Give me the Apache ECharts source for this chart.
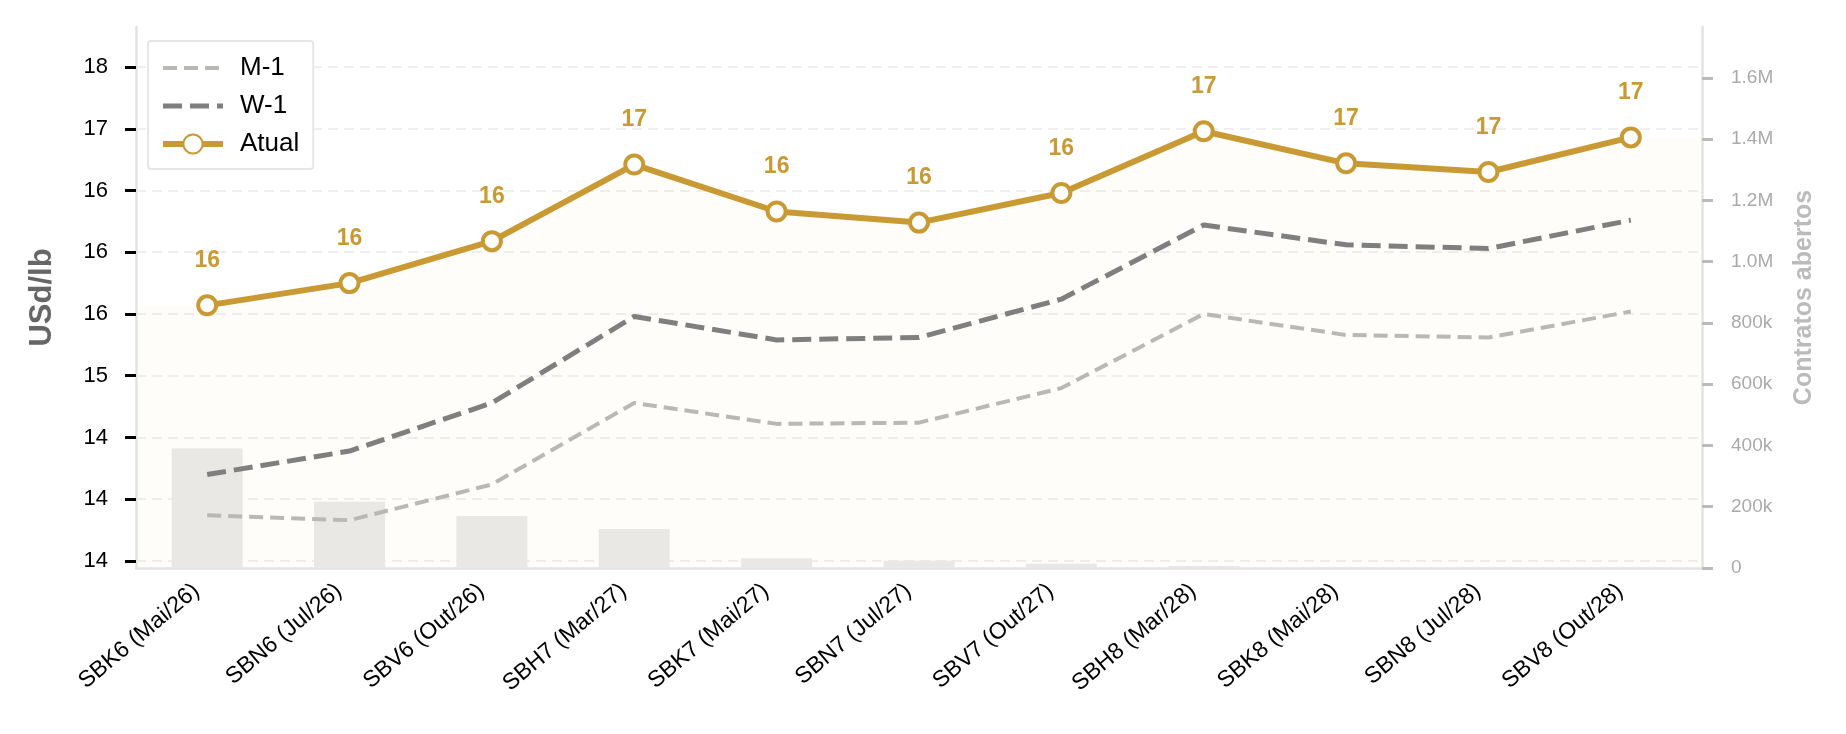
<!DOCTYPE html>
<html>
<head>
<meta charset="utf-8">
<title>Curva futura</title>
<script src="https://cdn.jsdelivr.net/npm/echarts@6/dist/echarts.min.js"></script>
<style>
html, body { margin: 0; padding: 0; background: #fff; }
#main { width: 1846px; height: 734px; }
</style>
</head>
<body>
<div id="main"></div>
<script type="text/javascript">
// vencimentos
var contratos = ['SBK6 (Mai/26)', 'SBN6 (Jul/26)', 'SBV6 (Out/26)', 'SBH7 (Mar/27)', 'SBK7 (Mai/27)', 'SBN7 (Jul/27)',
	'SBV7 (Out/27)', 'SBH8 (Mar/28)', 'SBK8 (Mai/28)', 'SBN8 (Jul/28)', 'SBV8 (Out/28)'];
// precos (USd/lb)
var atual = [15.57, 15.75, 16.09, 16.71, 16.33, 16.24, 16.48, 16.98, 16.72, 16.65, 16.93];
var semanaAnterior = [14.20, 14.39, 14.78, 15.48, 15.29, 15.31, 15.62, 16.22, 16.06, 16.03, 16.26];
var mesAnterior = [13.87, 13.83, 14.12, 14.78, 14.61, 14.62, 14.90, 15.50, 15.33, 15.31, 15.52];
// contratos abertos
var contratosAbertos = [390000, 216000, 170000, 127000, 32000, 24000, 14000, 6500, 2000, 1000, 500];
// marcas dos eixos
var leftTickValues = [13.5, 14, 14.5, 15, 15.5, 16, 16.5, 17, 17.5];
var leftTickLabels = ['14', '14', '14', '15', '16', '16', '16', '17', '18'];
var rightTickValues = [0, 200000, 400000, 600000, 800000, 1000000, 1200000, 1400000, 1600000];
var rightTickLabels = ['0', '200k', '400k', '600k', '800k', '1.0M', '1.2M', '1.4M', '1.6M'];

var fonte = '"Liberation Sans", Arial, sans-serif';
var ouro = '#c99a33';

// area suave sob a curva atual, estendida ate as bordas do grafico
var ultimo = atual.length - 1;
var areaAtual = [[-0.5, atual[0]]];
for (var i = 0; i < atual.length; i++) {
	areaAtual.push([i, atual[i]]);
}
areaAtual.push([ultimo + 0.5, atual[ultimo]]);

var semIcone = { color: 'rgba(0,0,0,0)', borderColor: 'rgba(0,0,0,0)', borderWidth: 0 };

var myChart = echarts.init(document.getElementById('main'));
var option = {
	backgroundColor: '#ffffff',
	animation: false,
	textStyle: { fontFamily: fonte },
	grid: { left: 136, right: 144, top: 27, bottom: 166, outerBoundsMode: 'none' },
	legend: {
		data: [
			{ name: 'M-1', itemStyle: semIcone },
			{ name: 'W-1', itemStyle: semIcone },
			{ name: 'Atual' }
		],
		orient: 'vertical',
		left: 148,
		top: 41,
		padding: [14, 14, 12, 12],
		itemWidth: 60,
		itemHeight: 24,
		itemGap: 12,
		borderColor: '#e6e6e6',
		borderWidth: 2,
		borderRadius: 3,
		backgroundColor: '#ffffff',
		lineStyle: { width: 'inherit' },
		textStyle: { fontSize: 26, color: '#000', padding: [0, 0, 0, 12] }
	},
	xAxis: [{
		type: 'category',
		data: contratos,
		boundaryGap: true,
		axisLine: { onZero: false, lineStyle: { color: '#e3e3e3', width: 2.5 } },
		axisTick: { alignWithLabel: true, length: 12, lineStyle: { color: '#000', width: 2.5 } },
		axisLabel: { rotate: 40, margin: 11, padding: [0, 14, 0, 0], fontSize: 23, color: '#000', interval: 0 },
		splitLine: { show: false }
	}, {
		type: 'value',
		min: -0.5,
		max: ultimo + 0.5,
		show: false
	}],
	yAxis: [{
		type: 'value',
		min: 13.443,
		max: 17.824,
		name: 'USd/lb',
		nameLocation: 'middle',
		nameGap: 78,
		nameTextStyle: { fontSize: 31, fontWeight: 'bold', color: '#666' },
		axisLine: { show: true, onZero: false, lineStyle: { color: '#e3e3e3', width: 2.5 } },
		axisTick: { show: true, length: 11, customValues: leftTickValues, lineStyle: { color: '#000', width: 3 } },
		axisLabel: {
			customValues: leftTickValues,
			margin: 28,
			fontSize: 22,
			color: '#000',
			formatter: function(v) {
				var i = leftTickValues.indexOf(v);
				return i >= 0 ? leftTickLabels[i] : '';
			}
		},
		splitLine: { show: true, lineStyle: { color: '#efefef', width: 2, type: [10, 6] } }
	}, {
		type: 'value',
		min: 0,
		max: 1766000,
		position: 'right',
		name: 'Contratos abertos',
		nameLocation: 'middle',
		nameGap: 90,
		nameRotate: 90,
		nameTextStyle: { fontSize: 25, fontWeight: 'bold', color: '#bbbbbb' },
		axisLine: { show: true, onZero: false, lineStyle: { color: '#e3e3e3', width: 2.5 } },
		axisTick: { show: true, length: 11, customValues: rightTickValues, lineStyle: { color: '#bbbbbb', width: 3 } },
		axisLabel: {
			customValues: rightTickValues,
			margin: 29,
			fontSize: 19,
			color: '#aaaaaa',
			formatter: function(v) {
				var i = rightTickValues.indexOf(v);
				return i >= 0 ? rightTickLabels[i] : '';
			}
		},
		splitLine: { show: false }
	}],
	series: [{
		name: 'area',
		type: 'line',
		xAxisIndex: 1,
		data: areaAtual,
		symbol: 'none',
		silent: true,
		lineStyle: { width: 0 },
		areaStyle: { color: 'rgba(201,154,51,0.035)', origin: 'start' },
		z: 0
	}, {
		name: 'Contratos abertos',
		type: 'bar',
		yAxisIndex: 1,
		data: contratosAbertos,
		barWidth: 71,
		itemStyle: { color: '#e9e8e4' },
		z: 1
	}, {
		name: 'M-1',
		type: 'line',
		data: mesAnterior,
		symbol: 'none',
		lineStyle: { color: '#b8b8b5', width: 4, type: [14, 7] },
		itemStyle: { color: '#b8b8b5' },
		z: 3
	}, {
		name: 'W-1',
		type: 'line',
		data: semanaAnterior,
		symbol: 'none',
		lineStyle: { color: '#7f7f7f', width: 5, type: [19, 8] },
		itemStyle: { color: '#7f7f7f' },
		z: 4
	}, {
		name: 'Atual',
		type: 'line',
		data: atual,
		symbol: 'circle',
		symbolSize: 18,
		lineStyle: { color: ouro, width: 6 },
		itemStyle: { color: '#ffffff', borderColor: ouro, borderWidth: 4 },
		label: {
			show: true,
			position: 'top',
			distance: 22,
			fontSize: 23,
			fontWeight: 'bold',
			color: ouro,
			formatter: function(p) {
				return p.value.toFixed(0);
			}
		},
		z: 5
	}]
};
myChart.setOption(option);
</script>
</body>
</html>
